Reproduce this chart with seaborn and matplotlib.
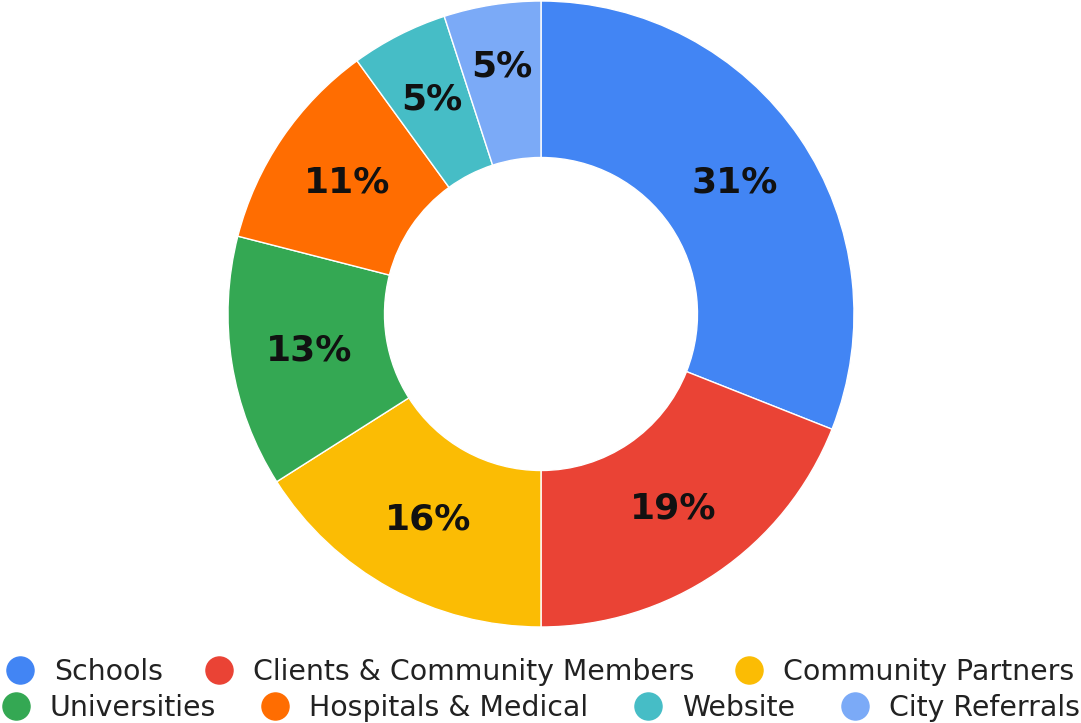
import matplotlib
matplotlib.use("Agg")
import matplotlib.pyplot as plt
from matplotlib.lines import Line2D
import numpy as np
import seaborn as sns

# Referral sources (share of total, %)
categories = ["Schools", "Clients & Community Members", "Community Partners",
              "Universities", "Hospitals & Medical", "Website", "City Referrals"]
shares = [31, 19, 16, 13, 11, 5, 5]
colors = ["#4285F4", "#EA4335", "#FBBC04", "#34A853", "#FF6D01", "#46BDC6", "#7BAAF7"]

sns.set_theme(style="white")
palette = sns.color_palette(colors)
plt.rcParams["font.family"] = ["DejaVu Sans"]

fig = plt.figure(figsize=(10.81, 7.23), dpi=100)
ax = fig.add_axes([0.2109, 0.1328, 0.5791, 0.8658])

wedges, texts, autotexts = ax.pie(
    shares,
    colors=palette,
    startangle=90,
    counterclock=False,
    radius=1.0,
    pctdistance=0.75,
    autopct=lambda p: f"{p:.0f}%",
    wedgeprops=dict(width=0.5, edgecolor="white", linewidth=1),
    textprops=dict(fontsize=26, fontweight="bold", color="#111111"),
)

# narrow slices: push the label a little outward so it fits inside the ring
label_radius = {5: 0.77, 6: 0.80}
for i, r in label_radius.items():
    w = wedges[i]
    mid = np.deg2rad((w.theta1 + w.theta2) / 2)
    autotexts[i].set_position((r * np.cos(mid), r * np.sin(mid)))

ax.set_xlim(-1, 1)
ax.set_ylim(-1, 1)
ax.set_aspect("equal")
ax.axis("off")

def handle(c):
    return Line2D([], [], marker="o", linestyle="", markersize=19.5,
                  markerfacecolor=c, markeredgecolor=c)

legend_kw = dict(frameon=False, fontsize=20.4, handletextpad=0.7,
                 handlelength=1.0, labelcolor="#222222", loc="center",
                 borderpad=0, borderaxespad=0)

row1 = fig.legend([handle(palette[i]) for i in range(3)], categories[:3],
                  ncol=3, columnspacing=1.45, bbox_to_anchor=(0.5, 0.0705),
                  **legend_kw)
row2 = fig.legend([handle(palette[i]) for i in range(3, 7)], categories[3:],
                  ncol=4, columnspacing=1.6, bbox_to_anchor=(0.5, 0.0207),
                  **legend_kw)

fig.savefig("out.png", dpi=100, facecolor="white")
